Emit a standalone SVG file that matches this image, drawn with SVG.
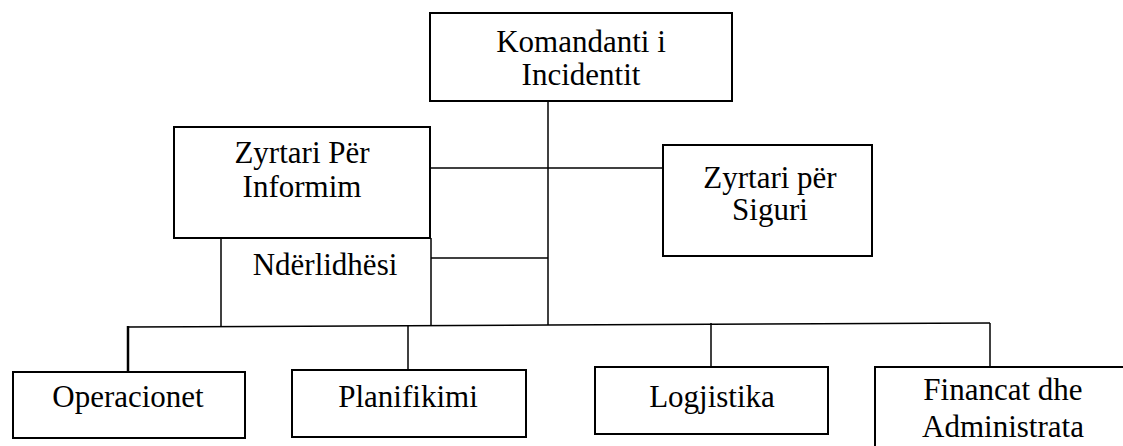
<svg xmlns="http://www.w3.org/2000/svg" width="1123" height="446" viewBox="0 0 1123 446">
<style>
.box{fill:none;stroke:#000;stroke-width:2}
.ln{fill:none;stroke:#000;stroke-width:1.5}
.t{font-family:"Liberation Serif","Times New Roman",serif;font-size:31px;fill:#000;text-anchor:middle}
</style>
<rect width="1123" height="446" fill="#fff"/>
<g id="connectors">
<line class="ln" x1="548" y1="101" x2="548" y2="325"/>
<line class="ln" x1="430" y1="168" x2="663" y2="168"/>
<line class="ln" x1="431" y1="258" x2="548" y2="258"/>
<polyline class="ln" points="128,327 548,325 990,323"/>
<line class="ln" x1="128" y1="326" x2="128" y2="372" style="stroke-width:2.5"/>
<line class="ln" x1="408" y1="325" x2="408" y2="370"/>
<line class="ln" x1="711" y1="323" x2="711" y2="367"/>
<line class="ln" x1="990" y1="323" x2="990" y2="367"/>
</g>
<g id="komandanti">
<rect class="box" x="430" y="13" width="302" height="88"/>
<text class="t" x="581" y="52">Komandanti i</text>
<text class="t" x="581" y="85">Incidentit</text>
</g>
<g id="informim">
<rect class="box" x="174" y="127" width="256" height="111"/>
<text class="t" x="302" y="163">Zyrtari Për</text>
<text class="t" x="302" y="197">Informim</text>
</g>
<g id="siguri">
<rect class="box" x="663" y="145" width="209" height="111"/>
<text class="t" x="770" y="188">Zyrtari për</text>
<text class="t" x="770" y="220">Siguri</text>
</g>
<g id="nderlidhesi">
<line class="ln" x1="221" y1="238" x2="221" y2="326"/>
<line class="ln" x1="431" y1="238" x2="431" y2="326"/>
<text class="t" x="325" y="275">Ndërlidhësi</text>
</g>
<g id="operacionet">
<rect class="box" x="13" y="372" width="232" height="66"/>
<text class="t" x="128" y="407">Operacionet</text>
</g>
<g id="planifikimi">
<rect class="box" x="292" y="370" width="234" height="67"/>
<text class="t" x="408" y="407">Planifikimi</text>
</g>
<g id="logjistika">
<rect class="box" x="595" y="367" width="233" height="67"/>
<text class="t" x="712" y="407">Logjistika</text>
</g>
<g id="financat">
<rect class="box" x="875" y="367" width="260" height="100"/>
<text class="t" x="1003" y="400">Financat dhe</text>
<text class="t" x="1003" y="437">Administrata</text>
</g>
</svg>
